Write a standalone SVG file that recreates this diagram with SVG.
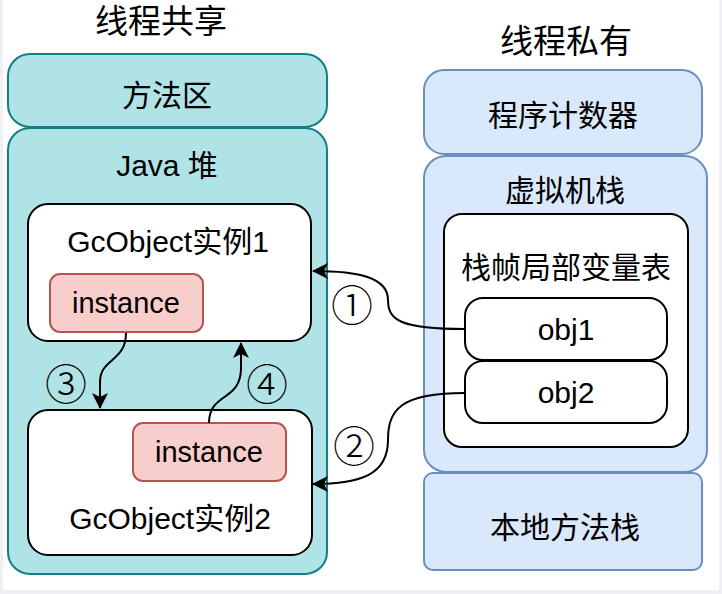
<svg xmlns="http://www.w3.org/2000/svg" width="722" height="594" viewBox="0 0 722 594">
<style>
text{font-family:"Liberation Sans","Noto Sans CJK SC",sans-serif;fill:#000;text-anchor:middle}
.t{font-size:33px}
.l{font-size:30px}
.i{font-size:29px}
.n{font-family:"Noto Sans CJK SC",sans-serif;font-size:42px;font-weight:300}
.teal{fill:#b0e3e6;stroke:#0e8088;stroke-width:2}
.blue{fill:#dae8fc;stroke:#6c8ebf;stroke-width:2}
.white{fill:#fff;stroke:#000;stroke-width:2}
.red{fill:#f8cecc;stroke:#b85450;stroke-width:2}
.c{fill:none;stroke:#000;stroke-width:2}
</style>
<defs>
<marker id="ah" viewBox="0 0 16 16" refX="15" refY="8" markerWidth="16" markerHeight="16" markerUnits="userSpaceOnUse" orient="auto">
<path d="M0,0 L16,8 L0,16 L4,8 Z" fill="#000"/>
</marker>
</defs>
<rect x="0" y="0" width="722" height="594" fill="#eef0f4"/>
<rect x="3" y="0" width="716" height="590" fill="#fff"/>
<text class="t" x="161" y="33">线程共享</text>
<text class="t" x="566" y="53">线程私有</text>
<g id="method-area"><rect class="teal" x="8" y="54" width="319" height="73" rx="22"/><text class="l" x="167" y="106">方法区</text></g>
<g id="java-heap"><rect class="teal" x="8" y="128" width="319" height="446" rx="22"/><text class="l" x="167" y="176">Java 堆</text></g>
<g id="gc1"><rect class="white" x="28" y="204" width="283" height="137" rx="20"/><text class="l" x="168" y="252">GcObject实例1</text></g>
<g id="inst1"><rect class="red" x="50" y="274" width="153" height="58" rx="10"/><text class="i" x="126" y="313">instance</text></g>
<g id="gc2"><rect class="white" x="28" y="410" width="284" height="145" rx="20"/><text class="l" x="170" y="529">GcObject实例2</text></g>
<g id="inst2"><rect class="red" x="133" y="423" width="153" height="58" rx="10"/><text class="i" x="209" y="462">instance</text></g>
<g id="pc"><rect class="blue" x="424" y="70" width="278" height="84" rx="20"/><text class="l" x="563" y="126">程序计数器</text></g>
<g id="vm-stack"><rect class="blue" x="424" y="156" width="283" height="316" rx="22"/><text class="l" x="565" y="201">虚拟机栈</text></g>
<g id="frame"><rect class="white" x="444" y="214" width="244" height="233" rx="18"/><text class="l" x="566" y="278">栈帧局部变量表</text></g>
<g id="obj1"><rect class="white" x="465" y="298" width="202" height="62" rx="18"/><text class="l" x="566" y="340">obj1</text></g>
<g id="obj2"><rect class="white" x="465" y="361" width="202" height="62" rx="18"/><text class="l" x="566" y="403">obj2</text></g>
<g id="native-stack"><rect class="blue" x="424" y="473" width="278" height="97" rx="9"/><text class="l" x="565" y="538">本地方法栈</text></g>
<g id="connectors">
<path class="c" d="M126,333 C126,362 100,358 100,382 L100,408" marker-end="url(#ah)"/>
<path class="c" d="M209,423 C209,392 241,402 241,368 L241,343" marker-end="url(#ah)"/>
<path class="c" d="M465,329 C400,329 388,320 388,300 C388,278 360,271 313,271" marker-end="url(#ah)"/>
<path class="c" d="M465,393 C400,393 388,410 388,440 C388,475 360,484 313,484" marker-end="url(#ah)"/>
<text class="n" x="66" y="400">③</text>
<text class="n" x="267" y="400">④</text>
<text class="n" x="352" y="321">①</text>
<text class="n" x="354" y="462">②</text>
</g>
</svg>
